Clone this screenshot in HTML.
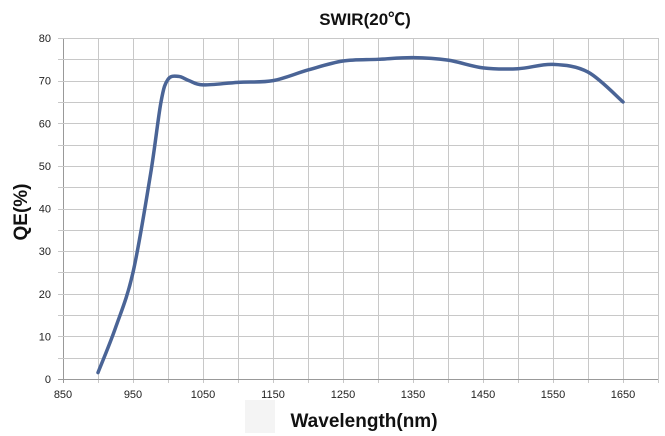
<!DOCTYPE html>
<html><head><meta charset="utf-8"><style>
body{margin:0;background:#fff;}
svg{display:block;font-family:"Liberation Sans","Noto Sans CJK SC",sans-serif;}
</style></head><body>
<svg id="s" width="665" height="436" viewBox="0 0 665 436">
<rect x="245" y="400" width="30" height="33" fill="#f4f4f4"/>
<g id="grid" stroke="#c8c8c8" stroke-width="1"></g>
<g id="ticks" font-size="11" fill="#222"></g>
<text x="365" y="25" font-size="17" font-weight="bold" text-anchor="middle" fill="#111">SWIR(20℃)</text>
<text x="364" y="427" font-size="19" font-weight="bold" text-anchor="middle" fill="#111">Wavelength(nm)</text>
<text transform="translate(27,212) rotate(-90)" font-size="19" font-weight="bold" text-anchor="middle" fill="#111">QE(%)</text>
<path id="curve" fill="none" stroke="#4a6496" stroke-width="3.5" stroke-linejoin="round" stroke-linecap="round"/>
</svg>
<script>
var X=function(n){return 63+(n-850)*0.7},Y=function(q){return 379-q*4.2625};
var g=document.getElementById('grid'),t=document.getElementById('ticks'),ns='http://www.w3.org/2000/svg';
function el(p,tag,a,txt){var e=document.createElementNS(ns,tag);for(var k in a)e.setAttribute(k,a[k]);if(txt)e.textContent=txt;p.appendChild(e);}
for(var n=850;n<=1700;n+=50){el(g,'line',{x1:X(n)+.5,x2:X(n)+.5,y1:38,y2:383,stroke:n==850?'#999':'#c8c8c8'});}
for(var q=0;q<=80;q+=5){el(g,'line',{x1:58,x2:658,y1:Math.round(Y(q))+.5,y2:Math.round(Y(q))+.5,stroke:q==0?'#999':'#c8c8c8'});}
for(var q=0;q<=80;q+=10)el(t,'text',{x:51,y:Y(q)+4,'text-anchor':'end'},''+q);
for(var n=850;n<=1650;n+=100)el(t,'text',{x:X(n),y:398,'text-anchor':'middle'},''+n);
var d=[[900,1.5],[925,12],[950,25],[975,48],[990,65],[1000,70.3],[1015,71],[1030,70],[1050,69],[1100,69.6],[1150,70],[1200,72.5],[1250,74.6],[1300,75],[1350,75.4],[1400,74.8],[1450,73],[1500,72.8],[1550,73.8],[1600,72],[1650,65]];
var p=d.map(function(a){return[X(a[0]),Y(a[1])]});
var s='M'+p[0][0]+','+p[0][1];
for(var i=0;i<p.length-1;i++){var p0=p[i-1]||p[i],p1=p[i],p2=p[i+1],p3=p[i+2]||p2;
s+=' C'+(p1[0]+(p2[0]-p0[0])/6)+','+(p1[1]+(p2[1]-p0[1])/6)+' '+(p2[0]-(p3[0]-p1[0])/6)+','+(p2[1]-(p3[1]-p1[1])/6)+' '+p2[0]+','+p2[1];}
document.getElementById('curve').setAttribute('d',s);
</script>
</body></html>
